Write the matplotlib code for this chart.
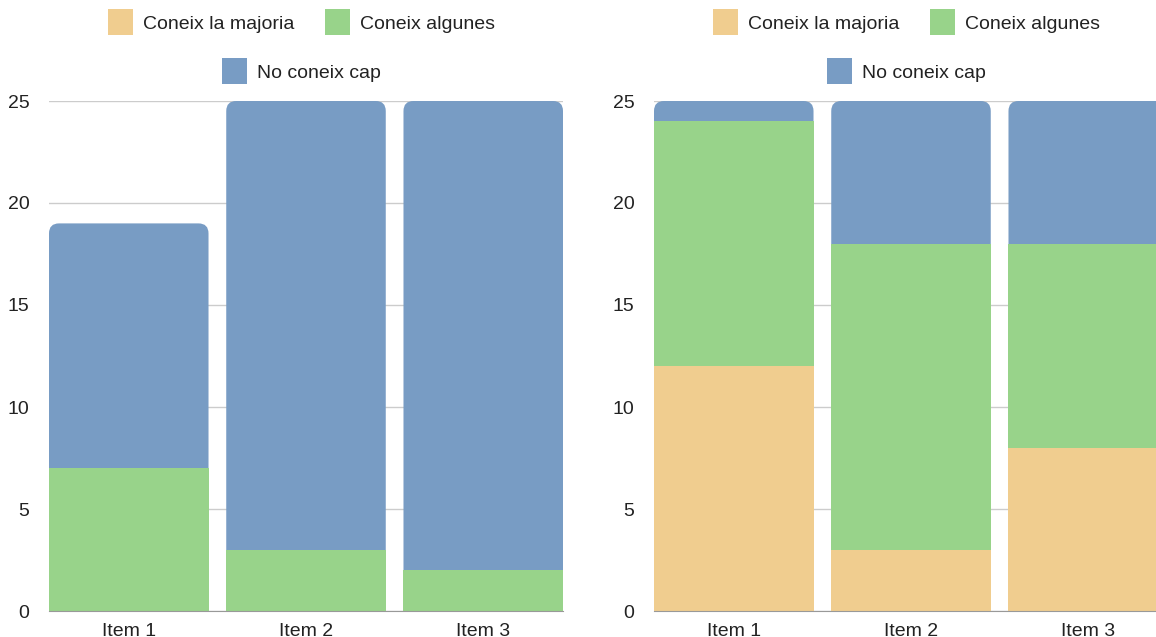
import numpy as np
import matplotlib.pyplot as plt
from matplotlib.patches import FancyBboxPatch, Rectangle

plt.rcParams['font.family'] = ['Liberation Sans', 'DejaVu Sans']

items = ["Item 1", "Item 2", "Item 3"]
series_names = ["Coneix la majoria", "Coneix algunes", "No coneix cap"]
colors = ["#f0cd8f", "#98d38a", "#789cc4"]

# left chart
left_majoria = [0, 0, 0]
left_algunes = [7, 3, 2]
left_cap = [12, 22, 23]

# right chart
right_majoria = [12, 3, 8]
right_algunes = [12, 15, 10]
right_cap = [1, 7, 7]

W, H = 1156, 637
fig = plt.figure(figsize=(W / 100, H / 100), dpi=100)

ax_w, ax_h = 514, 510
ax_bottom = 637 - 611


def draw_panel(left_px, series):
    ax = fig.add_axes([left_px / W, ax_bottom / H, ax_w / W, ax_h / H])
    x = np.arange(len(items))
    width = 0.9
    ax.set_xlim(-0.45, len(items) - 0.55)
    ax.set_ylim(0, 25)

    totals = np.sum(series, axis=0)
    # radius of rounded top corners, ~10 px
    rx = 10 * (len(items) - 0.1) / ax_w
    ry = 10 * 25 / ax_h
    for i in range(len(items)):
        # topmost non-zero series gets the rounded box
        top = max(k for k in range(len(series)) if series[k][i] > 0)
        box = FancyBboxPatch((x[i] - width / 2, 0), width, totals[i],
                             boxstyle="round,pad=0,rounding_size=%f" % rx,
                             mutation_aspect=ry / rx,
                             facecolor=colors[top], edgecolor="none", zorder=2)
        ax.add_patch(box)
        bottom = 0
        for k in range(top):
            if series[k][i] > 0:
                ax.bar(x[i], series[k][i], width, bottom=bottom,
                       color=colors[k], linewidth=0, zorder=3)
            bottom += series[k][i]

    ax.set_yticks([0, 5, 10, 15, 20, 25])
    ax.set_xticks(x)
    ax.set_xticklabels(items)
    ax.tick_params(length=0, labelsize=14, colors="#222222")
    ax.tick_params(axis="y", pad=14)
    ax.tick_params(axis="x", pad=9)
    ax.grid(axis="y", color="#cccccc", linewidth=1, zorder=0)
    ax.set_axisbelow(True)
    for s in ["top", "right", "left"]:
        ax.spines[s].set_visible(False)
    ax.spines["bottom"].set_color("#999999")
    ax.spines["bottom"].set_zorder(4)

    # legend
    off = left_px - 49
    entries = [(108, 22, 0), (325, 22, 1), (222, 71, 2)]
    for sx, sy, k in entries:
        fig.add_artist(Rectangle(((sx + off) / W, 1 - (sy + 12.5) / H), 25 / W, 25 / H,
                                 transform=fig.transFigure, facecolor=colors[k],
                                 edgecolor="none"))
        fig.text((sx + off + 35) / W, 1 - (sy + 2.5) / H, series_names[k], fontsize=14,
                 va="center", ha="left", color="#222222")
    return ax


draw_panel(49, [left_majoria, left_algunes, left_cap])
draw_panel(654, [right_majoria, right_algunes, right_cap])

fig.savefig("out.png", dpi=100)
